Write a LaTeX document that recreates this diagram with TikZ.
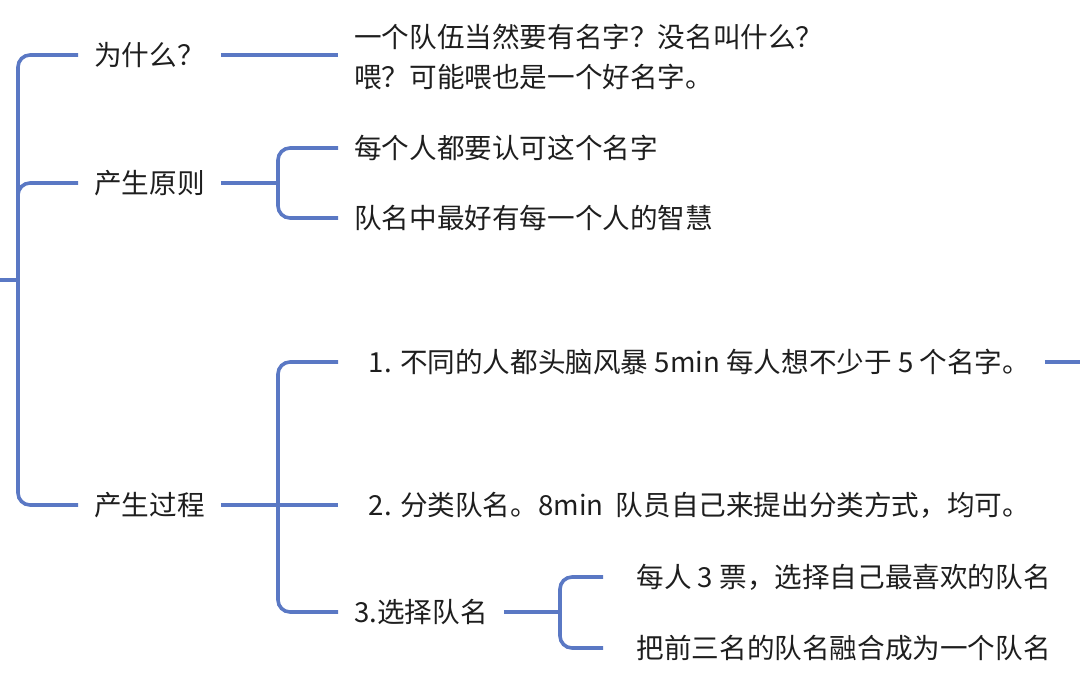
\documentclass[tikz,border=0pt]{standalone}
\usepackage{fontspec}
\setmainfont{Noto Sans CJK SC}
\usetikzlibrary{positioning,calc}
\definecolor{branchblue}{RGB}{90,120,196}
\definecolor{inkgray}{RGB}{30,30,30}
\tikzset{
  branch/.style={draw=branchblue, line width=2.7pt, rounded corners=9pt},
  topic/.style={anchor=west, inner xsep=12pt, inner ysep=0.75pt, text=inkgray, font=\fontsize{20.7}{30}\selectfont},
}
\begin{document}
\begin{tikzpicture}[x=0.75pt,y=0.75pt,yscale=-1,xscale=1]
\useasboundingbox (0,0) rectangle (1080,689);

% Text Node
\node[topic] (why) at (78,55) {为什么？};
% Text Node
\node[topic] (rule) at (78,183) {产生原则};
% Text Node
\node[topic] (build) at (78,505) {产生过程};

% Text Node
\node[topic, align=left] (whyText) at (338,57) {一个队伍当然要有名字？没名叫什么？\\喂？可能喂也是一个好名字。};
% Text Node
\node[topic] (rule1) at (338,148) {每个人都要认可这个名字};
% Text Node
\node[topic] (rule2) at (338,218) {队名中最好有每一个人的智慧};

% Text Node
\node[topic] (step1) at (338,362) {\hspace*{11pt}1. 不同的人都头脑风暴 5min 每人想不少于 5 个名字。};
% Text Node
\node[topic] (step2) at (338,505) {\hspace*{11pt}2. 分类队名。8min~~队员自己来提出分类方式，均可。};
% Text Node
\node[topic] (vote) at (338,612) {3.选择队名};
% Text Node
\node[topic] (vote1) at (603,577) {\hspace*{13pt}每人 3 票，选择自己最喜欢的队名};
% Text Node
\node[topic] (vote2) at (603,648) {\hspace*{13pt}把前三名的队名融合成为一个队名};

\coordinate (root) at (0,280);
\coordinate (spine) at (18,280);
\coordinate (ruleFork) at (278,183);
\coordinate (buildFork) at (278,505);
\coordinate (voteFork) at (560,612);
\coordinate (more) at (1080,362);

%Spine
\draw[branch] (root) -- (spine);
\draw[branch] (why.west) -| (spine) |- (build.west);
\draw[branch] ($(rule.west -| spine)+(0,14)$) |- (rule.west);

%Why
\draw[branch] (why.east) -- (why.east -| whyText.west);

%Rules
\draw[branch] (rule.east) -- (ruleFork);
\draw[branch] (rule1.west) -| (ruleFork) |- (rule2.west);

%Process
\draw[branch] (build.east) -- (step2.west);
\draw[branch] (step1.west) -| (buildFork) |- (vote.west);
\draw[branch] ([xshift=-1pt]step1.east) -- (more);

%Vote
\draw[branch] (vote.east) -- (voteFork);
\draw[branch] (vote1.west) -| (voteFork) |- (vote2.west);

\end{tikzpicture}
\end{document}
